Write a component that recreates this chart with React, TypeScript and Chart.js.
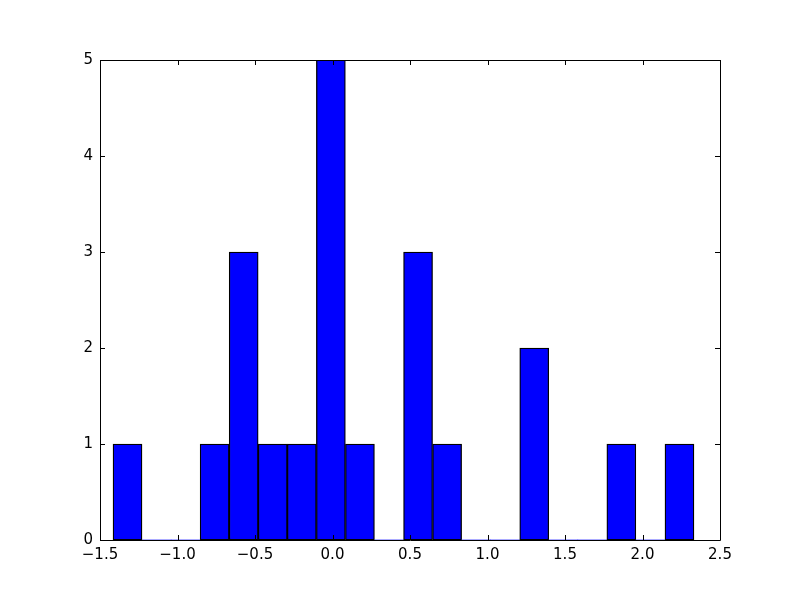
import React, { useEffect, useRef } from "react";
import { Chart, registerables } from "chart.js";

Chart.register(...registerables);

const binEdges = [
  -1.416, -1.229, -1.041, -0.854, -0.667, -0.479, -0.292, -0.104, 0.083, 0.271,
  0.458, 0.646, 0.833, 1.02, 1.208, 1.395, 1.583, 1.77, 1.957, 2.145, 2.332,
];
const counts = [1, 0, 0, 1, 3, 1, 1, 5, 1, 0, 3, 1, 0, 0, 2, 0, 0, 1, 0, 1];
const xTicks = [-1.5, -1.0, -0.5, 0.0, 0.5, 1.0, 1.5, 2.0, 2.5];
const yTicks = [0, 1, 2, 3, 4, 5];

const FONT = "'DejaVu Sans', sans-serif";

const framePlugin = {
  id: "mplFrame",
  afterDatasetsDraw(chart: any) {
    const { ctx, chartArea, scales } = chart;
    const { left, right, top, bottom } = chartArea;
    ctx.save();
    ctx.strokeStyle = "#000";
    ctx.lineWidth = 1;
    const L = 5;
    ctx.beginPath();
    for (const v of xTicks) {
      const x = Math.round(scales.x.getPixelForValue(v)) + 0.5;
      ctx.moveTo(x, bottom);
      ctx.lineTo(x, bottom - L);
      ctx.moveTo(x, top);
      ctx.lineTo(x, top + L);
    }
    for (const v of yTicks) {
      const y = Math.round(scales.y.getPixelForValue(v)) + 0.5;
      ctx.moveTo(left, y);
      ctx.lineTo(left + L, y);
      ctx.moveTo(right, y);
      ctx.lineTo(right - L, y);
    }
    ctx.stroke();
    ctx.beginPath();
    ctx.rect(Math.round(left) + 0.5, Math.round(top) + 0.5, Math.round(right - left), Math.round(bottom - top));
    ctx.stroke();
    ctx.restore();
  },
};

export default function App() {
  const ref = useRef<HTMLCanvasElement>(null);
  useEffect(() => {
    if (!ref.current) return;
    const data = counts.map((c, i) => ({ x: (binEdges[i] + binEdges[i + 1]) / 2, y: c }));
    const chart = new Chart(ref.current, {
      type: "bar",
      data: {
        datasets: [
          {
            data: data as any,
            backgroundColor: "#0000ff",
            borderColor: "#000000",
            borderWidth: ((c: any) => (counts[c.dataIndex] === 0 ? 0 : 1.3)) as any,
            borderSkipped: false,
            barPercentage: 1,
            categoryPercentage: 1,
          },
        ],
      },
      options: {
        responsive: false,
        animation: false,
        devicePixelRatio: 1,
        layout: { padding: { left: 0, top: 60, right: 80, bottom: 0 } },
        plugins: { legend: { display: false }, tooltip: { enabled: false } },
        scales: {
          x: {
            type: "linear",
            min: -1.5,
            max: 2.5,
            offset: false,
            afterFit: (s: any) => {
              s.height = 60;
            },
            afterBuildTicks: (s: any) => {
              s.ticks = xTicks.map((v) => ({ value: v }));
            },
            grid: { display: false, drawTicks: false },
            border: { display: false },
            ticks: {
              padding: 6,
              color: "#000",
              font: { family: FONT, size: 15 },
              maxRotation: 0,
              autoSkip: false,
              callback: (v: any) => {
                const n = Number(v);
                const s = Math.abs(n).toFixed(1);
                return n < 0 ? "\u2212" + s : s;
              },
            },
          },
          y: {
            min: 0,
            max: 5,
            afterFit: (s: any) => {
              s.width = 100;
            },
            afterBuildTicks: (s: any) => {
              s.ticks = yTicks.map((v) => ({ value: v }));
            },
            grid: { display: false, drawTicks: false },
            border: { display: false },
            ticks: {
              padding: 7,
              color: "#000",
              font: { family: FONT, size: 15 },
              callback: (v: any) => String(v),
            },
          },
        },
      },
      plugins: [framePlugin],
    });
    return () => chart.destroy();
  }, []);
  return (
    <div style={{ position: "fixed", left: 0, top: 0, width: 800, height: 600, background: "#fff" }}>
      <canvas ref={ref} width={800} height={600} style={{ width: 800, height: 600 }} />
    </div>
  );
}
